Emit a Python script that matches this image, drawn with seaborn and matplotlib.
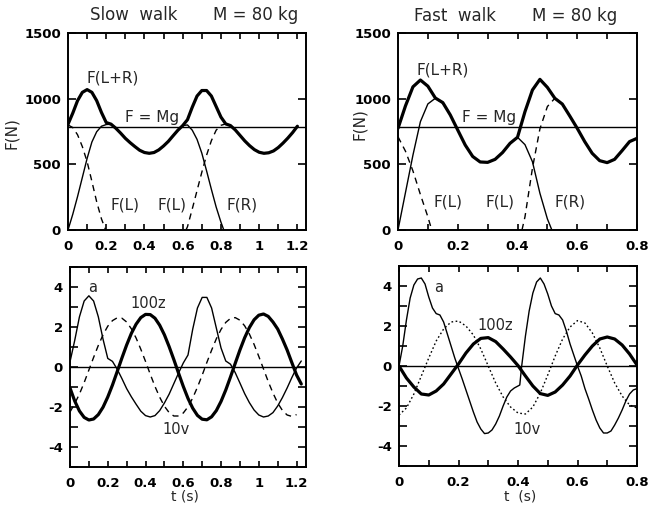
import numpy as np
import matplotlib
matplotlib.use("Agg")
import matplotlib.pyplot as plt
from matplotlib.ticker import MultipleLocator, FuncFormatter
import seaborn as sns

# ------------------------------------------------------------------
# DATA
# ------------------------------------------------------------------
MG = 784  # body weight line, N

# ---- Slow walk, top panel (force, N) ----
slow_t_sum = np.round(np.arange(0, 1.2001, 0.025), 3)
slow_F_sum = [805, 890, 985, 1048, 1069, 1048, 985, 895, 818, 806,
              775, 738, 698, 665, 635, 607, 590, 584, 590, 610,
              640, 675, 718, 760, 795, 840, 935, 1020, 1062, 1062,
              1020, 940, 860, 808, 795, 762, 720, 678, 642, 612,
              592, 584, 588, 602, 628, 662, 700, 742, 790]
slow_t_L = [0, 0.025, 0.05, 0.075, 0.1, 0.125, 0.15, 0.175, 0.2,
            0.225, 0.25, 0.275, 0.3, 0.325, 0.35, 0.375, 0.4, 0.425,
            0.45, 0.475, 0.5, 0.525, 0.55, 0.575, 0.6,
            0.625, 0.65, 0.675, 0.7, 0.725, 0.75, 0.775, 0.8, 0.815]
slow_F_L = [0, 120, 255, 400, 545, 670, 748, 790, 803,
            806, 775, 738, 698, 665, 635, 607, 590, 584,
            590, 610, 640, 675, 718, 760, 795,
            800, 760, 690, 585, 450, 310, 175, 60, 0]
slow_t_off = [0, 0.025, 0.05, 0.075, 0.1, 0.125, 0.15, 0.175, 0.197]
slow_F_off = [800, 780, 725, 635, 520, 370, 215, 85, 0]
slow_t_R = [0.617, 0.625, 0.65, 0.675, 0.7, 0.725, 0.75, 0.775, 0.8, 0.825]
slow_F_R = [0, 25, 160, 300, 440, 570, 680, 760, 797, 808]

# ---- Slow walk, bottom panel ----
slow_t_b = np.round(np.arange(0, 1.2251, 0.025), 3)
slow_a = [0.26, 1.33, 2.51, 3.3, 3.56, 3.3, 2.51, 1.39, 0.43, 0.28,
          -0.11, -0.58, -1.08, -1.49, -1.86, -2.21, -2.43, -2.5, -2.43, -2.18,
          -1.8, -1.36, -0.83, -0.3, 0.2, 0.6, 1.89, 2.95, 3.48, 3.48,
          2.95, 1.95, 0.95, 0.3, 0.14, -0.28, -0.8, -1.33, -1.78, -2.15,
          -2.4, -2.5, -2.45, -2.28, -1.95, -1.53, -1.05, -0.53, -0.05, 0.3]
slow_z = [-1.05, -1.7, -2.2, -2.52, -2.65, -2.6, -2.38, -2.01, -1.5, -0.9,
          -0.23, 0.45, 1.1, 1.68, 2.14, 2.47, 2.63, 2.62, 2.44, 2.09,
          1.61, 1.02, 0.37, -0.31, -0.97, -1.57, -2.06, -2.42, -2.61, -2.64,
          -2.49, -2.18, -1.72, -1.15, -0.5, 0.18, 0.85, 1.46, 1.97, 2.36,
          2.59, 2.65, 2.53, 2.25, 1.9, 1.4, 0.85, 0.22, -0.4, -0.85]
slow_t_v = np.round(np.arange(0, 1.2001, 0.025), 3)
slow_v = [-2.25, -1.83, -1.35, -0.78, -0.15, 0.48, 1.08, 1.61, 2.04, 2.32,
          2.46, 2.44, 2.25, 1.91, 1.45, 0.89, 0.28, -0.36, -0.97, -1.51,
          -1.96, -2.28, -2.45, -2.45, -2.3, -1.99, -1.55, -1.01, -0.41, 0.23,
          0.84, 1.41, 1.88, 2.23, 2.43, 2.47, 2.34, 2.06, 1.65, 1.13,
          0.53, -0.1, -0.73, -1.3, -1.8, -2.17, -2.4, -2.47, -2.38]

# ---- Fast walk, top panel (force, N) ----
fast_t_sum = np.round(np.arange(0, 0.8001, 0.025), 3)
fast_F_sum = [774, 945, 1090, 1142, 1095, 1005, 970, 876, 761, 647,
              560, 518, 515, 538, 590, 660, 706, 901, 1066, 1147,
              1086, 1003, 959, 868, 774, 673, 584, 528, 513, 538,
              604, 673, 698]
fast_t_L = [0, 0.025, 0.05, 0.075, 0.1, 0.125, 0.15, 0.175, 0.2, 0.225,
            0.25, 0.275, 0.3, 0.325, 0.35, 0.375, 0.4,
            0.425, 0.45, 0.475, 0.5, 0.515]
fast_F_L = [0, 285, 570, 825, 960, 1003, 965, 876, 761, 647,
            560, 518, 515, 538, 590, 660, 706,
            650, 520, 280, 85, 0]
fast_t_off = [0, 0.025, 0.05, 0.075, 0.1, 0.113]
fast_F_off = [710, 600, 450, 270, 100, 0]
fast_t_R = [0.415, 0.425, 0.45, 0.475, 0.5, 0.525]
fast_F_R = [0, 100, 470, 770, 940, 1003]

# ---- Fast walk, bottom panel ----
fast_t_a = [0.0, 0.0125, 0.025, 0.0375, 0.05, 0.0625, 0.075, 0.0875, 0.1, 0.1125,
            0.125, 0.1375, 0.15, 0.1625, 0.175, 0.1875, 0.2, 0.2125, 0.225, 0.2375,
            0.25, 0.2625, 0.275, 0.2875, 0.3, 0.3125, 0.325, 0.3375, 0.35, 0.3625,
            0.375, 0.3875, 0.4, 0.406, 0.412, 0.425, 0.4375, 0.45, 0.4625, 0.475,
            0.4875, 0.5, 0.5125, 0.525, 0.5375, 0.55, 0.5625, 0.575, 0.5875, 0.6,
            0.6125, 0.625, 0.6375, 0.65, 0.6625, 0.675, 0.6875, 0.7, 0.7125, 0.725,
            0.7375, 0.75, 0.7625, 0.775, 0.7875, 0.8]
fast_a = [0.0, 1.0, 2.3, 3.4, 4.05, 4.35, 4.4, 4.1, 3.45, 2.9,
          2.62, 2.55, 2.2, 1.6, 1.0, 0.4, -0.13, -0.65, -1.2, -1.75,
          -2.3, -2.8, -3.15, -3.38, -3.35, -3.2, -2.9, -2.5, -2.0, -1.55,
          -1.25, -1.1, -1.0, -0.95, -0.05, 1.5, 2.75, 3.65, 4.2, 4.4,
          4.1, 3.6, 3.0, 2.62, 2.55, 2.3, 1.75, 1.1, 0.55, 0.0,
          -0.5, -1.13, -1.65, -2.2, -2.7, -3.1, -3.35, -3.35, -3.25, -2.95,
          -2.6, -2.2, -1.75, -1.4, -1.2, -1.13]
fast_t_b = np.round(np.arange(0, 0.8001, 0.025), 3)
fast_z = [0.0, -0.6, -1.05, -1.4, -1.45, -1.25, -0.9, -0.4, 0.1, 0.65,
          1.1, 1.38, 1.42, 1.22, 0.85, 0.45, 0.02, -0.5, -1.0, -1.38,
          -1.47, -1.3, -0.95, -0.5, 0.05, 0.55, 1.0, 1.35, 1.45, 1.35,
          1.05, 0.6, 0.05]
fast_v = [-2.45, -2.1, -1.4, -0.5, 0.4, 1.25, 1.85, 2.2, 2.25, 2.0,
          1.55, 0.85, 0.0, -0.85, -1.55, -2.05, -2.35, -2.4, -2.05, -1.35,
          -0.45, 0.5, 1.35, 1.95, 2.27, 2.15, 1.65, 0.9, 0.0, -0.85,
          -1.5, -1.95, -2.1]

# ------------------------------------------------------------------
# STYLE
# ------------------------------------------------------------------
sns.set_theme(style="ticks")
plt.rcParams["font.family"] = ["DejaVu Sans"]
plt.rcParams["axes.unicode_minus"] = False

THICK = 2.3
THIN = 1.0
DASH = (0, (4.5, 3.5))
DOT = (0, (1.2, 1.8))

fig = plt.figure(figsize=(6.52, 5.19), dpi=100)
ax_tl = fig.add_axes([68 / 652, 1 - 230 / 519, 238 / 652, 197 / 519])
ax_tr = fig.add_axes([398 / 652, 1 - 230 / 519, 239 / 652, 197 / 519])
ax_bl = fig.add_axes([70 / 652, 1 - 467 / 519, 236 / 652, 200 / 519])
ax_br = fig.add_axes([399 / 652, 1 - 466 / 519, 238 / 652, 200 / 519])

fmt = FuncFormatter(lambda v, p: f"{v:g}")


def style(ax, xmax, ymin, ymax, ymaj, ymin_step=None):
    ax.set_xlim(0, xmax)
    ax.set_ylim(ymin, ymax)
    ax.xaxis.set_major_locator(MultipleLocator(0.2))
    ax.xaxis.set_minor_locator(MultipleLocator(0.1))
    ax.yaxis.set_major_locator(MultipleLocator(ymaj))
    if ymin_step:
        ax.yaxis.set_minor_locator(MultipleLocator(ymin_step))
    else:
        ax.yaxis.set_minor_locator(MultipleLocator(ymaj))
    ax.xaxis.set_major_formatter(fmt)
    ax.yaxis.set_major_formatter(fmt)
    ax.tick_params(which="both", direction="in", top=True, right=True,
                   width=1.2, labelsize=9.5, colors="black")
    ax.tick_params(axis="x", which="both", length=4.5, pad=7)
    ax.tick_params(axis="y", which="both", length=5.5, pad=5)
    for lab in ax.get_xticklabels() + ax.get_yticklabels():
        lab.set_fontweight("bold")
    for sp in ax.spines.values():
        sp.set_linewidth(1.4)
        sp.set_color("black")
    ax.set_xlabel("")
    ax.set_ylabel("")


def line(ax, t, v, lw, ls="-"):
    sns.lineplot(x=list(t), y=list(v), ax=ax, color="black", linewidth=lw,
                 linestyle=ls, estimator=None, sort=False, legend=False)


# ---- top-left: slow walk force ----
ax = ax_tl
ax.axhline(MG, color="black", lw=THIN)
line(ax, slow_t_L, slow_F_L, THIN)
line(ax, slow_t_off, slow_F_off, THIN, DASH)
line(ax, slow_t_R, slow_F_R, THIN, DASH)
line(ax, slow_t_sum, slow_F_sum, THICK)
style(ax, 1.245, 0, 1500, 500)
ax.text(0.235, 1157, "F(L+R)", ha="center", va="center", fontsize=11)
ax.text(0.44, 853, "F = Mg", ha="center", va="center", fontsize=11)
ax.text(0.30, 190, "F(L)", ha="center", va="center", fontsize=11)
ax.text(0.545, 190, "F(L)", ha="center", va="center", fontsize=11)
ax.text(0.91, 190, "F(R)", ha="center", va="center", fontsize=11)

# ---- top-right: fast walk force ----
ax = ax_tr
ax.axhline(MG, color="black", lw=THIN)
line(ax, fast_t_L, fast_F_L, THIN)
line(ax, fast_t_off, fast_F_off, THIN, DASH)
line(ax, fast_t_R, fast_F_R, THIN, DASH)
line(ax, fast_t_sum, fast_F_sum, THICK)
style(ax, 0.8, 0, 1500, 500)
ax.text(0.151, 1218, "F(L+R)", ha="center", va="center", fontsize=11)
ax.text(0.305, 853, "F = Mg", ha="center", va="center", fontsize=11)
ax.text(0.167, 213, "F(L)", ha="center", va="center", fontsize=11)
ax.text(0.34, 213, "F(L)", ha="center", va="center", fontsize=11)
ax.text(0.576, 213, "F(R)", ha="center", va="center", fontsize=11)

# ---- bottom-left: slow walk kinematics ----
ax = ax_bl
ax.axhline(0, color="black", lw=THIN)
line(ax, slow_t_v, slow_v, THIN, DASH)
line(ax, slow_t_b, slow_a, THIN)
line(ax, slow_t_b, slow_z, THICK)
style(ax, 1.25, -5, 5, 2, 1)
ax.text(0.122, 3.95, "a", ha="center", va="center", fontsize=10.5)
ax.text(0.415, 3.15, "100z", ha="center", va="center", fontsize=10.5)
ax.text(0.56, -3.1, "10v", ha="center", va="center", fontsize=10.5)

# ---- bottom-right: fast walk kinematics ----
ax = ax_br
ax.axhline(0, color="black", lw=THIN)
line(ax, fast_t_b, fast_v, THIN, DOT)
line(ax, fast_t_a, fast_a, THIN)
line(ax, fast_t_b, fast_z, THICK)
style(ax, 0.8, -5, 5, 2, 1)
ax.text(0.134, 3.9, "a", ha="center", va="center", fontsize=10.5)
ax.text(0.323, 2.0, "100z", ha="center", va="center", fontsize=10.5)
ax.text(0.43, -3.15, "10v", ha="center", va="center", fontsize=10.5)

# ---- figure-level texts ----
fig.text(134 / 652, 1 - 15 / 519, "Slow  walk", ha="center", va="center", fontsize=12)
fig.text(256 / 652, 1 - 15 / 519, "M = 80 kg", ha="center", va="center", fontsize=12)
fig.text(455 / 652, 1 - 16 / 519, "Fast  walk", ha="center", va="center", fontsize=12)
fig.text(575 / 652, 1 - 16 / 519, "M = 80 kg", ha="center", va="center", fontsize=12)
fig.text(12 / 652, 1 - 133 / 519, "F(N)", rotation=90, ha="center", va="center", fontsize=11)
fig.text(360 / 652, 1 - 124 / 519, "F(N)", rotation=90, ha="center", va="center", fontsize=11)
fig.text(185 / 652, 1 - 497 / 519, "t (s)", ha="center", va="center", fontsize=10)
fig.text(520 / 652, 1 - 496 / 519, "t  (s)", ha="center", va="center", fontsize=10)

fig.savefig("out.png", dpi=100, facecolor="white")
